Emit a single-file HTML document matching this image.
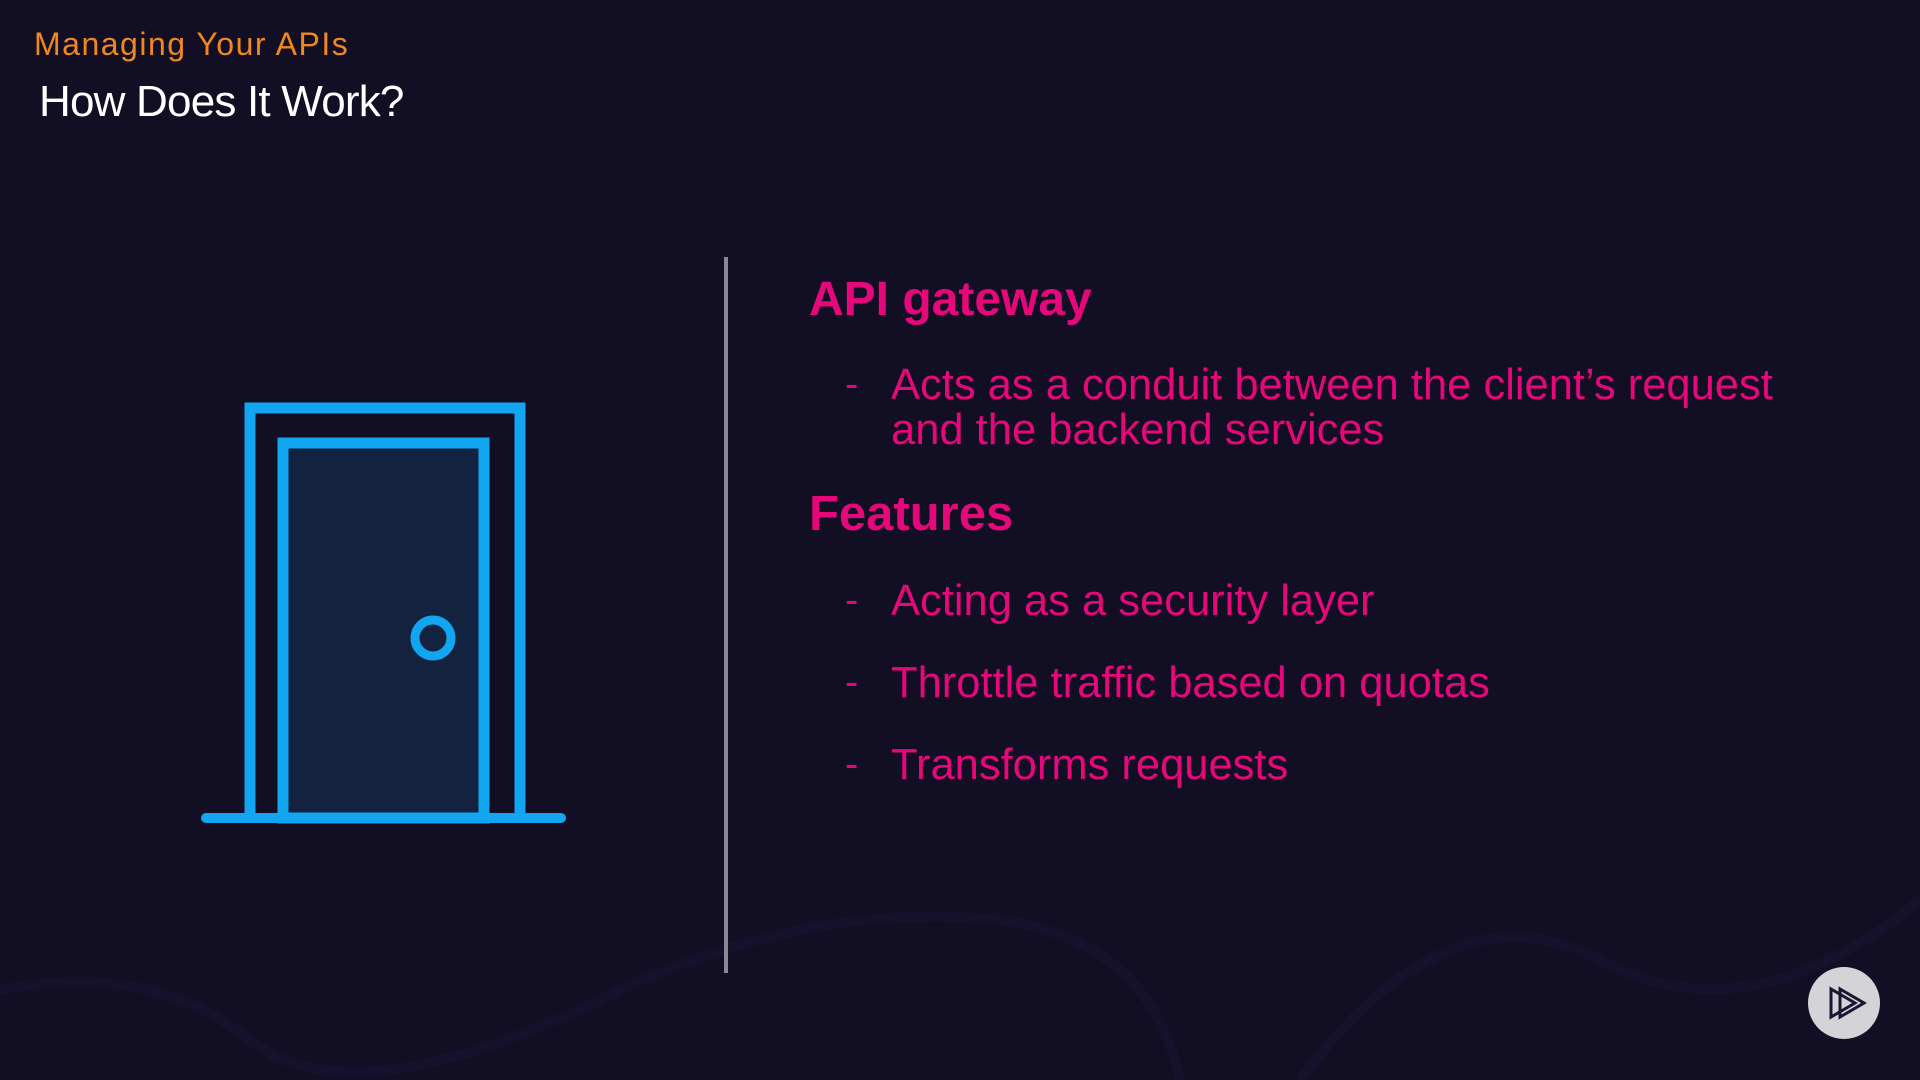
<!DOCTYPE html>
<html><head><meta charset="utf-8"><style>
html,body{margin:0;padding:0;}
body{width:1920px;height:1080px;background:#120e24;position:relative;overflow:hidden;font-family:"Liberation Sans",sans-serif;}
.t{position:absolute;line-height:1;white-space:nowrap;}
.p{color:#e6087a;}
</style></head><body>
<svg width="1920" height="1080" style="position:absolute;left:0;top:0">
  <path d="M0 990 Q150 960 250 1040 T600 1000 Q800 900 1000 920 Q1150 940 1180 1080" fill="none" stroke="#16122e" stroke-width="10"/>
  <path d="M1300 1080 Q1450 880 1600 960 Q1750 1040 1920 900" fill="none" stroke="#16122e" stroke-width="10"/>
  <rect x="724" y="257" width="4" height="716" fill="#8a8893"/>
  <line x1="206" y1="818" x2="561" y2="818" stroke="#12a6f2" stroke-width="10" stroke-linecap="round"/>
  <rect x="283" y="443" width="201" height="375" fill="#12223f" stroke="#12a6f2" stroke-width="11"/>
  <polyline points="250,818 250,408 520,408 520,818" fill="none" stroke="#12a6f2" stroke-width="11"/>
  <circle cx="433" cy="638" r="18" fill="none" stroke="#12a6f2" stroke-width="9"/>
  <circle cx="1844" cy="1003" r="36" fill="#d4d3d8"/>
  <polygon points="1831,989 1855,1003 1831,1017" fill="none" stroke="#1a1530" stroke-width="3"/>
  <polygon points="1840,989 1864,1003 1840,1017" fill="none" stroke="#1a1530" stroke-width="3"/>
</svg>
<div class="t" style="left:34px;top:28px;font-size:32px;color:#f0871f;letter-spacing:1.5px">Managing Your APIs</div>
<div class="t" style="left:39px;top:80px;font-size:44px;color:#fff;letter-spacing:-0.8px">How Does It Work?</div>
<div class="t p" style="left:809px;top:276px;font-size:48px;font-weight:bold">API gateway</div>
<div class="t p" style="left:809px;top:490px;font-size:49px;font-weight:bold">Features</div>
<div class="t p" style="left:845px;top:364px;font-size:40px">-</div>
<div class="t p" style="left:891px;top:364px;font-size:43.5px">Acts as a conduit between the client’s request</div>
<div class="t p" style="left:891px;top:409px;font-size:43.5px">and the backend services</div>
<div class="t p" style="left:845px;top:580px;font-size:40px">-</div>
<div class="t p" style="left:891px;top:580px;font-size:43.5px">Acting as a security layer</div>
<div class="t p" style="left:845px;top:662px;font-size:40px">-</div>
<div class="t p" style="left:891px;top:662px;font-size:43.5px">Throttle traffic based on quotas</div>
<div class="t p" style="left:845px;top:744px;font-size:40px">-</div>
<div class="t p" style="left:891px;top:744px;font-size:43.5px">Transforms requests</div>
</body></html>
